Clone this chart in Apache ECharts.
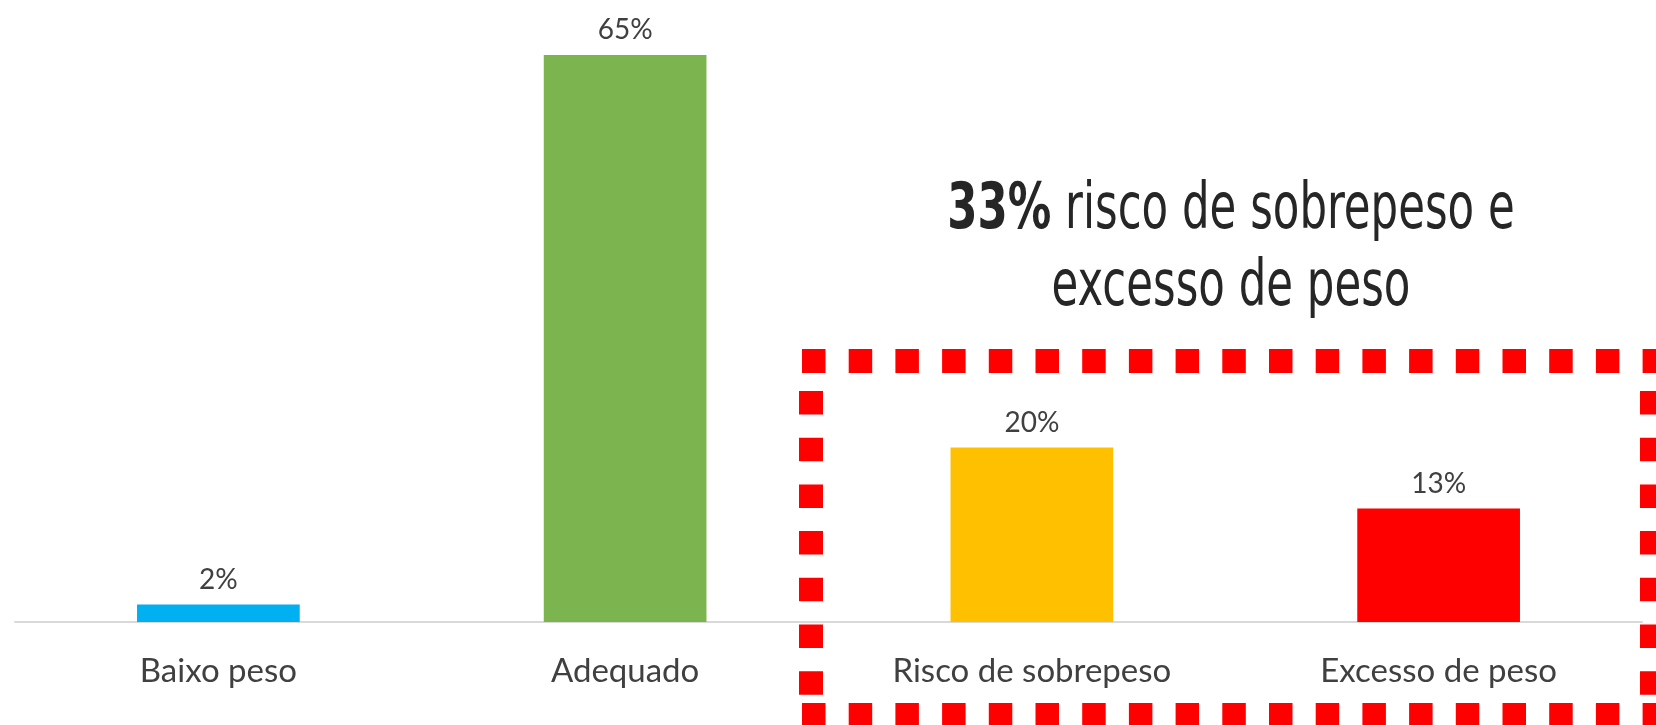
<!DOCTYPE html>
<html>
<head>
<meta charset="utf-8">
<script src="https://cdn.jsdelivr.net/npm/echarts@6/dist/echarts.min.js"></script>
<style>
  html, body { margin: 0; padding: 0; background: #fff; }
  #chart { width: 1656px; height: 725px; }
</style>
</head>
<body>
<div id="chart"></div>
<script>
// dados do gráfico
const categories = ['Baixo peso', 'Adequado', 'Risco de sobrepeso', 'Excesso de peso'];
const values = [2, 65, 20, 13];
const barColors = ['#00B0F0', '#7CB450', '#FFC000', '#FF0000'];
const highlight = '33%';
const titleRest = ' risco de sobrepeso e';
const titleLine2 = 'excesso de peso';

const labelFont = 'Lato, "Open Sans", sans-serif';
const titleFont = '"DejaVu Sans Condensed", "DejaVu Sans", sans-serif';

// caixa tracejada vermelha
const dash = { stroke: '#FF0000', lineWidth: 24, lineDash: [23.5, 23.2] };
const dashedBox = [
  { x1: 802, y1: 361, x2: 1660, y2: 361 },
  { x1: 802, y1: 715, x2: 1660, y2: 715 },
  { x1: 811, y1: 391, x2: 811, y2: 695 },
  { x1: 1652, y1: 391, x2: 1652, y2: 695 }
].map(s => ({ type: 'line', z: 10, shape: s, style: dash }));

const chart = echarts.init(document.getElementById('chart'));

chart.setOption({
  backgroundColor: '#ffffff',
  animation: false,
  grid: { left: 15, right: 14, top: 11.5, bottom: 103 },
  xAxis: {
    type: 'category',
    data: categories,
    axisLine: { lineStyle: { color: '#d9d9d9', width: 2 } },
    axisTick: { show: false },
    axisLabel: {
      margin: 33,
      fontSize: 33,
      fontFamily: labelFont,
      color: '#404040',
      interval: 0
    }
  },
  yAxis: {
    type: 'value',
    min: 0,
    max: 70,
    show: false,
    splitLine: { show: false }
  },
  series: [{
    type: 'bar',
    barWidth: '40%',
    data: values.map((v, i) => ({ value: v, itemStyle: { color: barColors[i] } })),
    label: {
      show: true,
      position: 'top',
      distance: 11,
      formatter: '{c}%',
      fontSize: 28,
      fontFamily: labelFont,
      color: '#404040'
    }
  }],
  graphic: [
    {
      // título em fonte estreita: comprimido na horizontal
      type: 'text',
      x: 1231,
      y: 173,
      scaleX: 0.755,
      z: 10,
      style: {
        text: '{b|' + highlight + '}{n|' + titleRest + '}\n{n|' + titleLine2 + '}',
        align: 'center',
        verticalAlign: 'top',
        fontFamily: titleFont,
        fontSize: 64,
        lineHeight: 77,
        fill: '#262626',
        rich: {
          b: { fontFamily: titleFont, fontSize: 64, fontWeight: 'bold', lineHeight: 77, fill: '#262626' },
          n: { fontFamily: titleFont, fontSize: 64, lineHeight: 77, fill: '#262626' }
        }
      }
    }
  ].concat(dashedBox)
});
</script>
</body>
</html>
